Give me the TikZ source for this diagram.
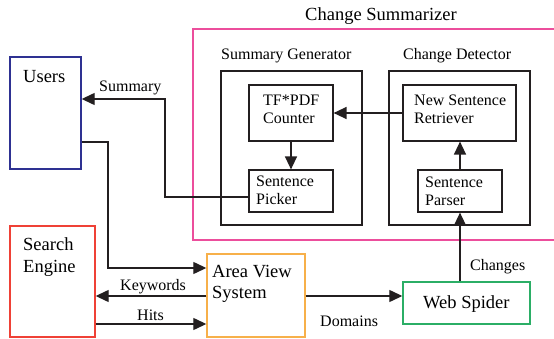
\documentclass[tikz,border=0pt]{standalone}
\usepackage{fontspec}
\setmainfont{Liberation Serif}
\usetikzlibrary{arrows.meta,fit}
\definecolor{cblue}{HTML}{2E3192}
\definecolor{cpink}{HTML}{EC4E9C}
\definecolor{cred}{HTML}{EF4136}
\definecolor{corange}{HTML}{F7B04A}
\definecolor{cgreen}{HTML}{2BAE66}
\definecolor{cgray}{HTML}{231F20}
\tikzset{
  box/.style={draw=cgray, line width=1.2pt, inner sep=0pt},
  cbox/.style={draw=#1, line width=1.4pt, inner sep=0pt},
  big/.style={font=\fontsize{18.5}{21}\selectfont, inner sep=0pt, anchor=base west, align=left},
  small/.style={font=\fontsize{16}{18}\selectfont, inner sep=0pt, anchor=base west, align=left},
  arr/.style={draw=cgray, line width=1.3pt, -{Triangle[length=13pt,width=12pt]}}
}
\begin{document}
\begin{tikzpicture}[x=1pt,y=-1pt]
\useasboundingbox (0,0) rectangle (554,339);
% boxes
\node[cbox=cblue, fit={(10,57) (81,169)}] (users) {};
\node[cbox=cpink, fit={(193,29) (570,240)}] (summ) {};
\node[box, fit={(221,71) (362,225)}] (sg) {};
\node[box, fit={(249,85) (333,141)}] (tf) {};
\node[box, fit={(249,170) (333,212)}] (sp) {};
\node[box, fit={(389,71) (530,225)}] (cd) {};
\node[box, fit={(403,85) (516,141)}] (nsr) {};
\node[box, fit={(418,170) (502,212)}] (spar) {};
\node[cbox=cred, fit={(10,226) (95,337)}] (se) {};
\node[cbox=corange, fit={(207,254) (305,337)}] (av) {};
\node[cbox=cgreen, fit={(403,282) (530,324)}] (ws) {};
% texts (multi-line: base = last line)
\node[big] (tsumm) at (305,21) {Change Summarizer};
\node[small] (tsg) at (221,60) {Summary Generator};
\node[small] (tcd) at (403,60) {Change Detector};
\node[small] (ttf) at (263,124) {TF*PDF\\Counter};
\node[small] (tnsr) at (414,124) {New Sentence\\Retriever};
\node[small] (tsp) at (256,205) {Sentence\\Picker};
\node[small] (tspar) at (425,206) {Sentence\\Parser};
\node[big] (tusers) at (23,83) {Users};
\node[big] (tse) at (23,272) {Search\\Engine};
\node[big] (tav) at (212,298) {Area View\\System};
\node[big] (tws) at (423,308) {Web Spider};
% connectors
\draw[arr] (sp.west|-0,197) -| (165,99) -- (users.east|-0,99);
\draw[arr] (tf.south) -- (sp.north);
\draw[arr] (nsr.west|-0,113) -- (tf.east|-0,113);
\draw[arr] (spar.north) -- (spar.north|-nsr.south);
\draw[arr] (spar.south|-ws.north) -- (spar.south);
\draw[arr] (users.east|-0,142) -| (108,268) -- (av.west|-0,268);
\draw[arr] (av.west|-0,296) -- (se.east|-0,296);
\draw[arr] (se.east|-0,324) -- (av.west|-0,324);
\draw[arr] (av.east|-0,296) -- (ws.west|-0,296);
% connector labels
\node[small] (lsum) at (99,92) {Summary};
\node[small] (lkw) at (120,290) {Keywords};
\node[small] (lhits) at (137,320) {Hits};
\node[small] (ldom) at (320,326) {Domains};
\node[small] (lch) at (470,270) {Changes};
\end{tikzpicture}
\end{document}
